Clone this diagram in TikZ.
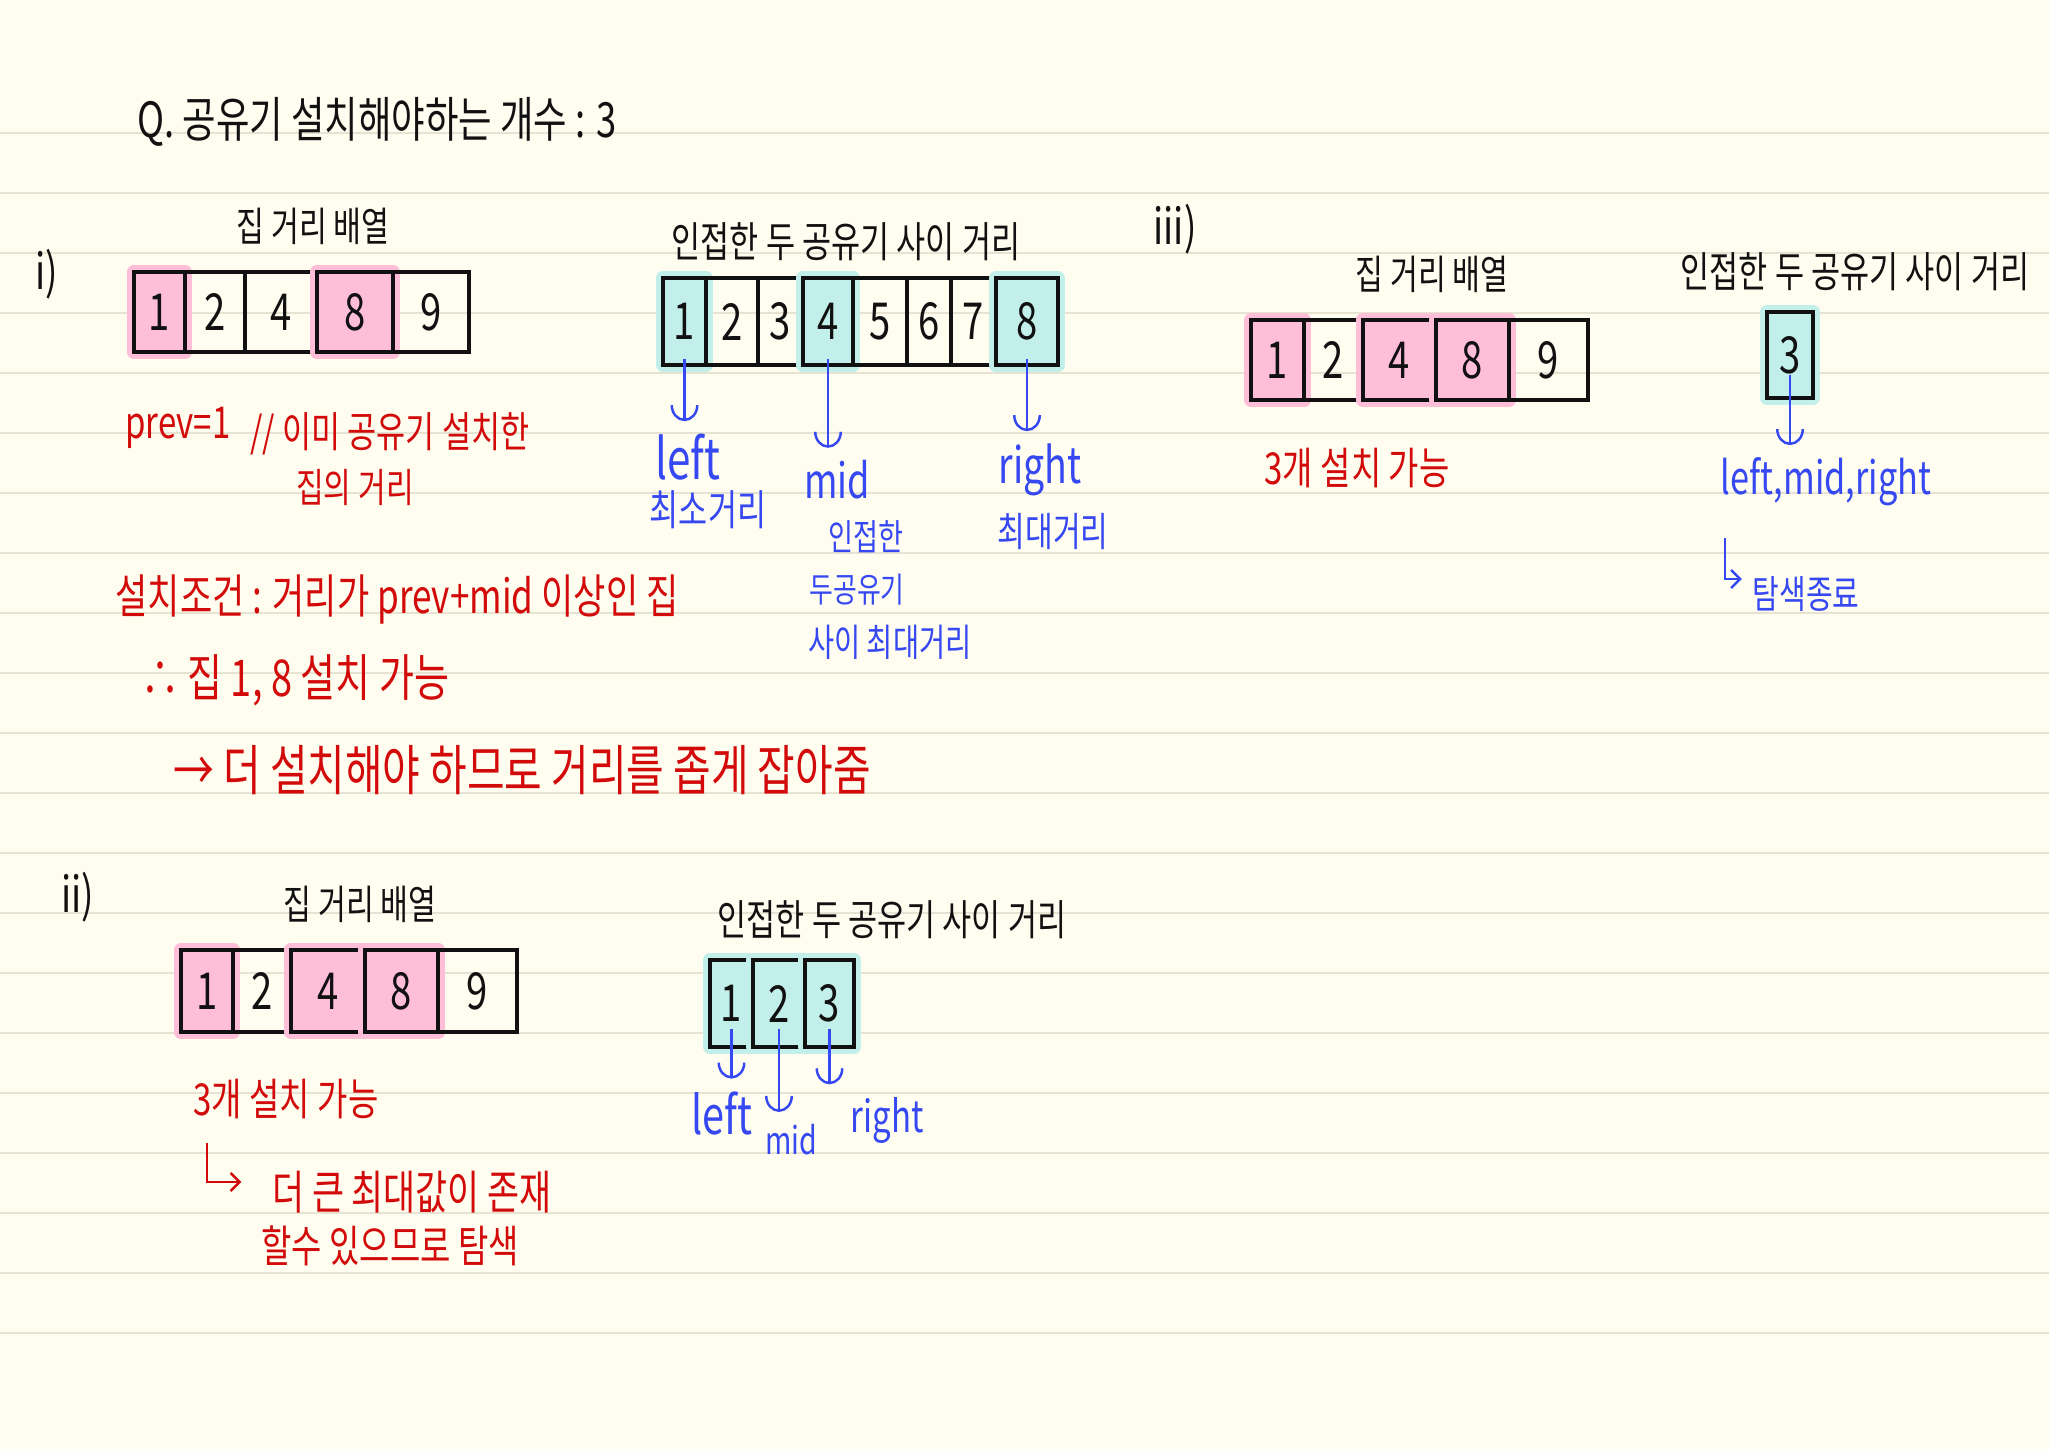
\documentclass[tikz,border=0pt]{standalone}
\usepackage{fontspec}
\usetikzlibrary{arrows.meta}
\newfontfamily\hand[FakeStretch=0.75]{Noto Sans CJK KR}

\definecolor{paper}{HTML}{FFFDEF}
\definecolor{ruleline}{HTML}{E6E3D3}
\definecolor{inkblack}{HTML}{111111}
\definecolor{penred}{HTML}{D20A0A}
\definecolor{penblue}{HTML}{3548F2}
\definecolor{hlpink}{HTML}{FFBED8}
\definecolor{hlcyan}{HTML}{C3EFEA}

\tikzset{
  blackpen/.style={text=inkblack, inner sep=0pt, font=\hand\fontsize{#1}{#1}\selectfont},
  blackpen/.default=12pt,
  redpen/.style={text=penred, inner sep=0pt, font=\hand\fontsize{#1}{#1}\selectfont},
  redpen/.default=12.5pt,
  bluepen/.style={text=penblue, inner sep=0pt, font=\hand\fontsize{#1}{#1}\selectfont},
  bluepen/.default=12pt,
  cell/.style={draw=inkblack, line width=0.9pt, fill=#1, inner sep=0pt,
    preaction={draw=#1, line width=4pt, line join=round},
    text=inkblack, font=\hand\fontsize{14.5pt}{14.5pt}\selectfont},
  cell/.default=none,
  bluearrow/.style={draw=penblue, line width=0.7pt, -{Arc Barb[length=1.6mm, width=2.8mm]}, shorten >=1.2mm},
  hookarrow/.style={line width=0.7pt, -{Straight Barb[length=0.9mm, width=1.8mm]}},
}

\begin{document}
\begin{tikzpicture}[x=0.01cm, y=-0.01cm]

    % Paper and ruled lines
    \fill[paper] (0,0) rectangle (2049,1449);
    \useasboundingbox (0,0) rectangle (2049,1449);
    \foreach \k in {0,...,20}
        \draw[ruleline, line width=0.5pt] (0,{132.7+60*\k}) -- (2049,{132.7+60*\k});

    % Question
    \node[blackpen=13.8pt] (title) at (377,122) {Q. 공유기 설치해야하는 개수 : 3};

    % ---------- i) ----------
    \node[blackpen=14pt] (seci) at (47,274) {i)};
    \node[blackpen=11.5pt] (housesi) at (313,226) {집 거리 배열};
    \node[blackpen=12pt] (gapsi) at (846,242) {인접한 두 공유기 사이 거리};

    % house distances
    \foreach \cx/\w/\v/\hc [count=\i] in {159.5/51/1/hlpink, 215/60/2/none, 281/72/4/none, 355/76/8/hlpink, 431/76/9/none}
        \node[cell=\hc, minimum width=\w*0.01cm, minimum height=0.8cm] (hi\i) at (\cx,312) {\v};

    % gaps between two routers
    \foreach \cx/\w/\v/\hc [count=\i] in {684.5/43/1/hlcyan, 732/52/2/none, 780.5/45/3/none, 828/50/4/hlcyan, 880/54/5/none, 929/44/6/none, 973.5/45/7/none, 1027/62/8/hlcyan}
        \node[cell=\hc, minimum width=\w*0.01cm, minimum height=0.87cm] (di\i) at (\cx,321.5) {\v};

    % left / mid / right
    \node[bluepen=16pt] (lefti) at (688,457) {left};
    \node[bluepen=12pt] (leftnotei) at (708,510) {최소거리};
    \node[bluepen=13.7pt] (midi) at (837,480) {mid};
    \node[bluepen=10.3pt] (midnotei) at (866,537) {인접한};
    \node[bluepen=9.8pt] (midnoteii) at (857,590) {두공유기};
    \node[bluepen=10.8pt] (midnoteiii) at (890,642) {사이 최대거리};
    \node[bluepen=14.2pt] (righti) at (1040,470) {right};
    \node[bluepen=11.4pt] (rightnotei) at (1053,532) {최대거리};

    \draw[bluearrow] ([yshift=0.8mm]di1.south) -- (di1.south |- lefti.north);
    \draw[bluearrow] ([yshift=0.8mm]di4.south) -- (di4.south |- midi.north);
    \draw[bluearrow] ([yshift=0.8mm]di8.south) -- (di8.south |- righti.north);

    % notes
    \node[redpen=12.5pt] (previ) at (178,428) {prev=1};
    \node[redpen=12pt] (prevnotei) at (390,434) {// 이미 공유기 설치한};
    \node[redpen=11.4pt] (prevnoteii) at (355,488) {집의 거리};
    \node[redpen=13.3pt] (condi) at (397,600) {설치조건 : 거리가 prev+mid 이상인 집};
    \node[redpen=14.4pt] (resi) at (295,680) {∴ 집 1, 8 설치 가능};
    \node[redpen=15.5pt] (nexti) at (522,770) {→ 더 설치해야 하므로 거리를 좁게 잡아줌};

    % ---------- iii) ----------
    \node[blackpen=14pt] (seciii) at (1175,229) {iii)};
    \node[blackpen=11.5pt] (housesiii) at (1432,274) {집 거리 배열};
    \node[blackpen=12pt] (gapsiii) at (1855,272) {인접한 두 공유기 사이 거리};

    \foreach \cx/\w/\v/\hc [count=\i] in {1277.5/53/1/hlpink, 1333.5/59/2/none, 1399.5/73/4/hlpink, 1472.5/73/8/hlpink, 1548.5/79/9/none}
        \node[cell=\hc, minimum width=\w*0.01cm, minimum height=0.8cm] (hiii\i) at (\cx,360) {\v};
    \node[cell=hlcyan, minimum width=0.46cm, minimum height=0.86cm] (diii1) at (1790,355) {3};

    \node[redpen=12.5pt] (okiii) at (1357,468) {3개 설치 가능};
    \node[bluepen=13pt] (lmriii) at (1826,482) {left,mid,right};
    \node[bluepen=11pt] (stopiii) at (1806,594) {탐색종료};

    \draw[bluearrow] ([yshift=2.5mm]diii1.south) -- (diii1.south |- lmriii.north);
    \coordinate (hookiii) at (1725,538);
    \draw[hookarrow, penblue] (hookiii) |- ([xshift=-1mm, yshift=1.5mm]stopiii.west);

    % ---------- ii) ----------
    \node[blackpen=14pt] (secii) at (78,897) {ii)};
    \node[blackpen=11.5pt] (housesii) at (360,904) {집 거리 배열};
    \node[blackpen=12pt] (gapsii) at (892,920) {인접한 두 공유기 사이 거리};

    \foreach \cx/\w/\v/\hc [count=\i] in {207/52/1/hlpink, 262/58/2/none, 328/74/4/hlpink, 401.5/73/8/hlpink, 477.5/79/9/none}
        \node[cell=\hc, minimum width=\w*0.01cm, minimum height=0.82cm] (hii\i) at (\cx,991) {\v};
    \foreach \cx/\w/\v [count=\i] in {731.5/43/1, 779/52/2, 829.5/49/3}
        \node[cell=hlcyan, minimum width=\w*0.01cm, minimum height=0.87cm] (dii\i) at (\cx,1003.5) {\v};

    \node[bluepen=15pt] (leftii) at (722,1113) {left};
    \node[bluepen=10.8pt] (midii) at (791,1140) {mid};
    \node[bluepen=12.5pt] (rightii) at (887,1120) {right};

    \draw[bluearrow] ([yshift=2mm]dii1.south) -- (dii1.south |- leftii.north);
    \draw[bluearrow] ([yshift=2mm]dii2.south) -- (dii2.south |- midii.north);
    \draw[bluearrow] ([yshift=2mm]dii3.south) -- (dii3.south |- rightii.north);

    \node[redpen=12.5pt] (okii) at (286,1099) {3개 설치 가능};
    \node[redpen=13.2pt] (moreii) at (412,1192) {더 큰 최대값이 존재};
    \node[redpen=12.5pt] (morenoteii) at (390,1246) {할수 있으므로 탐색};
    \coordinate (hookii) at (207,1143);
    \draw[hookarrow, penred] (hookii) |- ([xshift=-3mm, yshift=1mm]moreii.west);

\end{tikzpicture}
\end{document}
